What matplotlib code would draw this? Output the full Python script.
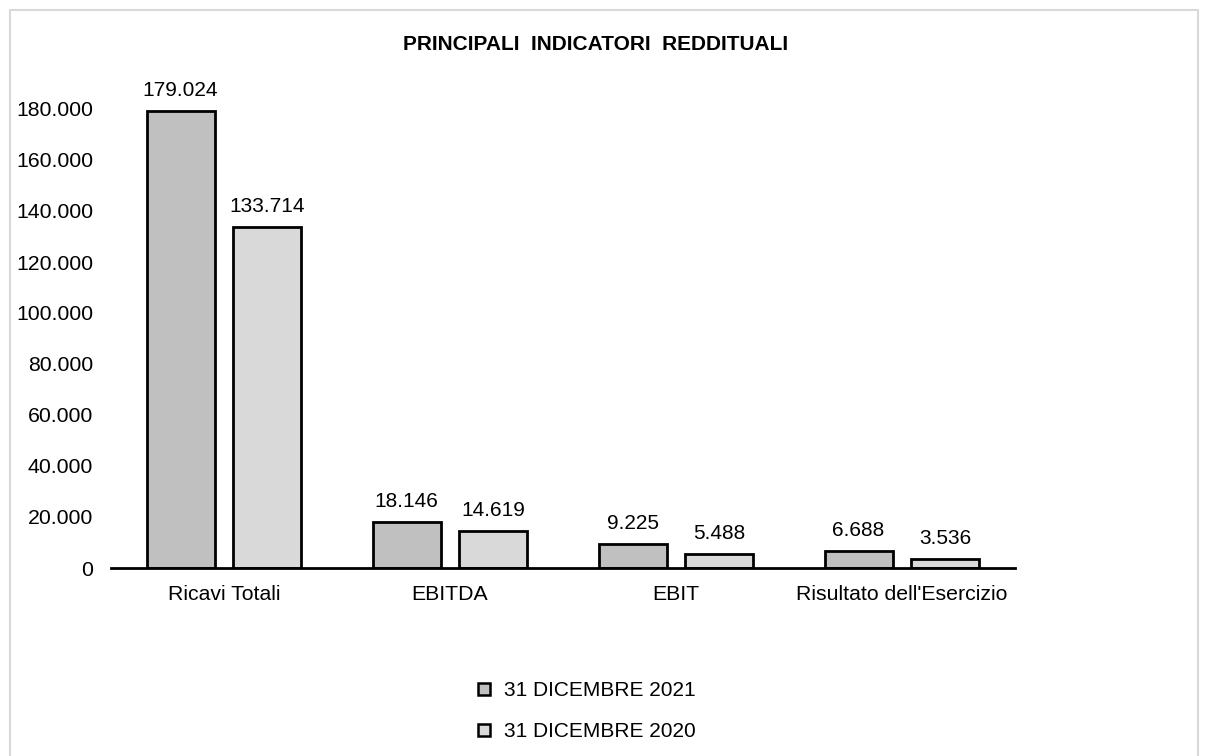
import numpy as np
import matplotlib.pyplot as plt
from matplotlib.lines import Line2D
from matplotlib.patches import Rectangle

plt.rcParams['font.family'] = ['Liberation Sans', 'DejaVu Sans']

# dati (migliaia di euro)
categorie = ["Ricavi Totali", "EBITDA", "EBIT", "Risultato dell'Esercizio"]
val_2021 = [179024, 18146, 9225, 6688]
val_2020 = [133714, 14619, 5488, 3536]
serie = ["31 DICEMBRE 2021", "31 DICEMBRE 2020"]
colori = ["#c0c0c0", "#d9d9d9"]
yticks = [0, 20000, 40000, 60000, 80000, 100000, 120000, 140000, 160000, 180000]


def fmt_it(v):
    return f"{v:,.0f}".replace(",", ".")


fig = plt.figure(figsize=(12.1, 7.56), dpi=100)
fig.patches.append(Rectangle((10 / 1210, -0.1), 1188 / 1210, 1.1 - 10 / 756,
                             transform=fig.transFigure, fill=False,
                             edgecolor='#d9d9d9', linewidth=1.5))
ax = fig.add_axes([111 / 1210, 1 - 568 / 756, 904 / 1210, 459 / 756])

x = np.arange(len(categorie))
w = 0.30
gap = 0.084
b1 = ax.bar(x - (w + gap) / 2, val_2021, w, color=colori[0], edgecolor='black', linewidth=2)
b2 = ax.bar(x + (w + gap) / 2, val_2020, w, color=colori[1], edgecolor='black', linewidth=2)
for bars, vals in ((b1, val_2021), (b2, val_2020)):
    ax.bar_label(bars, labels=[fmt_it(v) for v in vals], padding=8, fontsize=15, clip_on=False)

ax.set_xlim(-0.5, len(categorie) - 0.5)
ax.set_ylim(0, 180000)
ax.set_yticks(yticks)
ax.set_yticklabels([fmt_it(v) for v in yticks], fontsize=15.3)
ax.set_xticks(x)
ax.set_xticklabels(categorie, fontsize=15.3)
ax.tick_params(axis='x', length=0, pad=12)
ax.tick_params(axis='y', length=0, pad=13)
for s in ['top', 'right', 'left']:
    ax.spines[s].set_visible(False)
ax.spines['bottom'].set_linewidth(2)

fig.text(596 / 1210, 1 - 45 / 756, "PRINCIPALI  INDICATORI  REDDITUALI", ha='center', va='center',
         fontsize=15, fontweight='bold')

handles = [Line2D([], [], linestyle='none', marker='s', markersize=8, markerfacecolor=c,
                  markeredgecolor='black', markeredgewidth=1.8) for c in colori]
fig.legend(handles, serie, loc='center', bbox_to_anchor=(586 / 1210, 1 - 711 / 756), frameon=False,
           fontsize=15, handlelength=0.7, handletextpad=0.6, labelspacing=1.05)

fig.savefig("out.png", dpi=100, facecolor='white')
